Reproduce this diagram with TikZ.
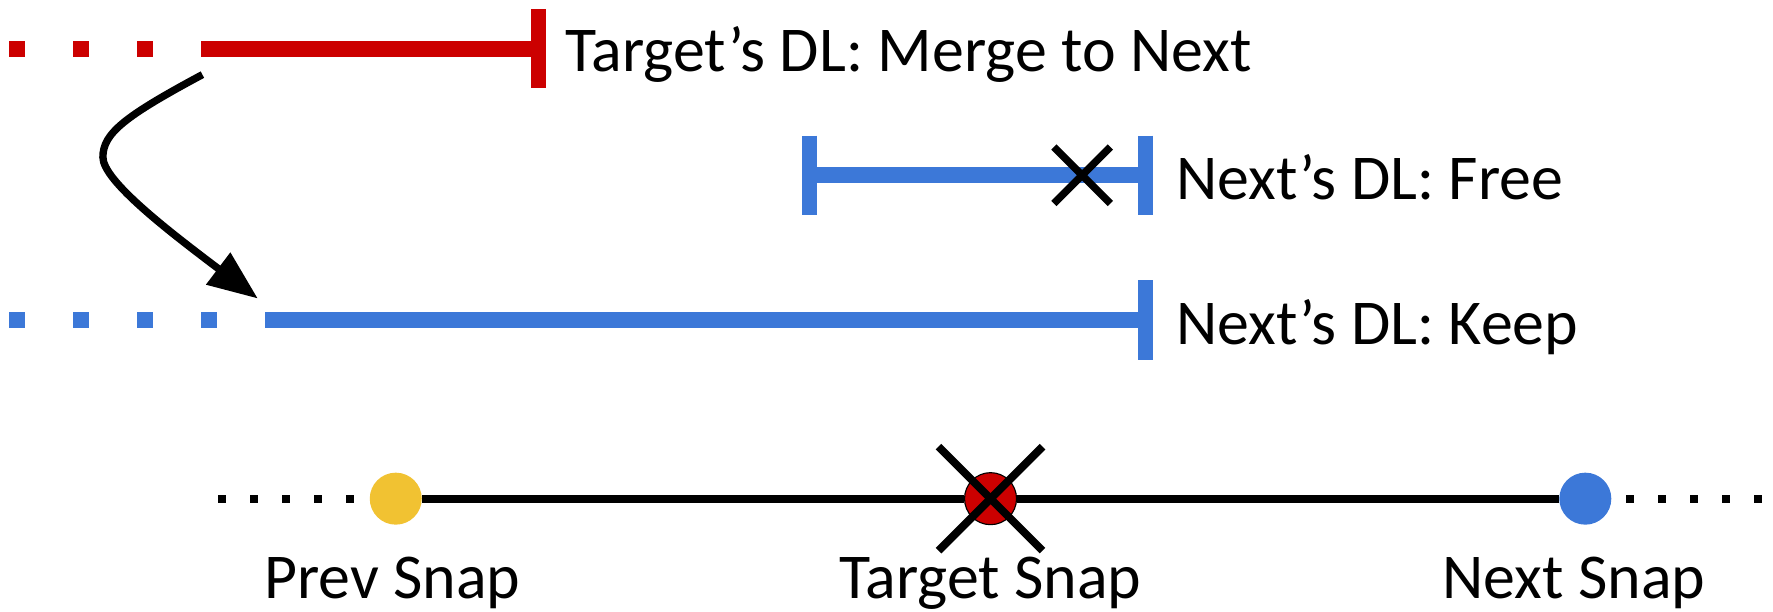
\documentclass[tikz,border=0pt]{standalone}
\usepackage{fontspec}
\setmainfont{Carlito}
\usetikzlibrary{arrows.meta,positioning}
\definecolor{dlred}{HTML}{CC0000}
\definecolor{dlblue}{HTML}{3C78D8}
\definecolor{snapyellow}{HTML}{F1C232}

\begin{document}
\begin{tikzpicture}[x=1pt,y=-1pt,font=\fontsize{56.5}{68}\selectfont,
  dl/.style={line width=14pt},
  dlbar/.style={line width=13pt},
  dlgap/.style={line width=14pt,dash pattern=on 14pt off 42.6pt},
  tl/.style={line width=7pt},
  tlgap/.style={line width=7pt,dash pattern=on 7pt off 21.3pt},
  xmark/.style={line width=6.5pt},
  snap/.style={circle,minimum size=46pt,inner sep=0pt},
  lbl/.style={anchor=base west,inner sep=0pt},
  snaplbl/.style={anchor=base,inner sep=0pt}]
\useasboundingbox (0,0) rectangle (1568,541);

% target deadline
\draw[dlgap,dlred] (8,43) -- (178,43);
\draw[dl,dlred] (178,43) -- (476,43);
\draw[dlbar,dlred] (476,8) -- (476,78);
\node[lbl] (tgtdl) at (500,63) {Target's DL: Merge to Next};

% next deadline, freed
\draw[dl,dlblue] (716,155) -- (1013,155);
\draw[dlbar,dlblue] (716,120) -- (716,190);
\draw[dlbar,dlblue] (1013,120) -- (1013,190);
\draw[xmark] (932,130) -- (982,180);
\draw[xmark] (932,180) -- (982,130);
\node[lbl] (freedl) at (1040,176) {Next's DL: Free};

% next deadline, kept
\draw[dlgap,dlblue] (8,283) -- (235,283);
\draw[dl,dlblue] (235,283) -- (1013,283);
\draw[dlbar,dlblue] (1013,248) -- (1013,318);
\node[lbl] (keepdl) at (1040,305) {Next's DL: Keep};

% merge arrow
\coordinate (mergefrom) at (179,66);
\coordinate (mergeto) at (228,264);
\draw[line width=6.5pt,-{Triangle[length=44pt,width=34pt]}] (mergefrom)
  .. controls (110,103) and (91,118) .. (91,139)
  .. controls (91,160) and (150,205) .. (mergeto);

% snapshot timeline
\node[snap,fill=snapyellow] (prev) at (350,441) {};
\node[snap,fill=dlred,draw=black,line width=1pt] (target) at (876,441) {};
\node[snap,fill=dlblue] (next) at (1402,441) {};
\coordinate (tlstart) at (193,441);
\coordinate (tlend) at (1560,441);
\draw[tlgap] (tlstart) -- (prev.west);
\draw[tl] (prev) -- (target) -- (next);
\draw[tlgap] ([xshift=13pt]next.east) -- (tlend);
\draw[xmark,line width=7pt] ([shift={(-46,-46)}]target.center) -- ([shift={(46,46)}]target.center);
\draw[xmark,line width=7pt] ([shift={(-46,46)}]target.center) -- ([shift={(46,-46)}]target.center);

\node[snaplbl] (prevlbl) at (347,529) {Prev Snap};
\node[snaplbl] (targetlbl) at (876,529) {Target Snap};
\node[snaplbl] (nextlbl) at (1392,529) {Next Snap};
\end{tikzpicture}
\end{document}
